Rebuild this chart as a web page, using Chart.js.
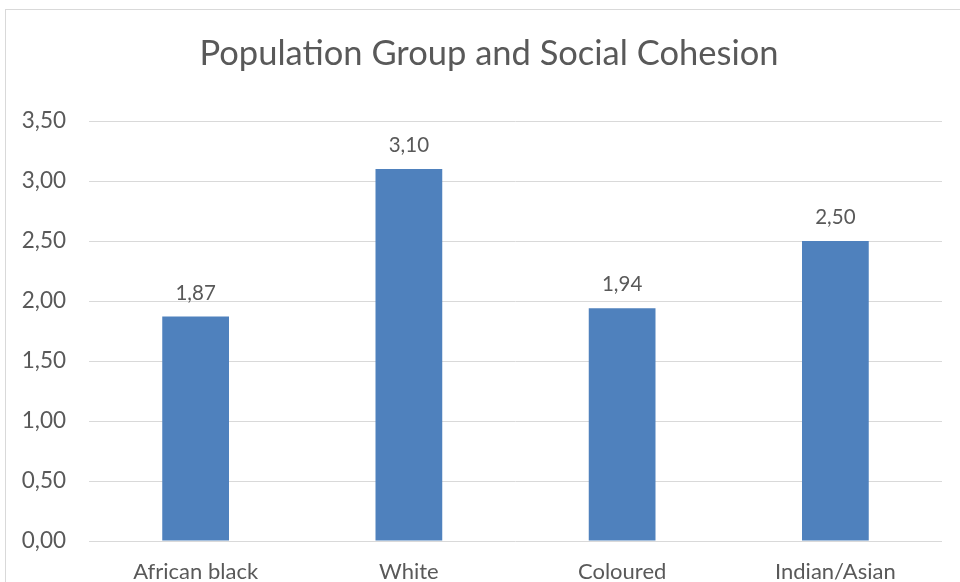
<!DOCTYPE html>
<html>
<head>
<meta charset="utf-8">
<script src="https://cdn.jsdelivr.net/npm/chart.js@4"></script>
<style>
  html, body { margin: 0; padding: 0; background: #fff; overflow: hidden; width: 960px; height: 582px; }
  #box { position: absolute; left: 5px; top: 9px; width: 966px; height: 600px; border: 1px solid #d9d9d9; background: #fff; }
  #myChart { display: block; }
</style>
</head>
<body>
<div id="box"><canvas id="myChart" width="966" height="592"></canvas></div>
<script>
// chart data
const groups = ['African black', 'White', 'Coloured', 'Indian/Asian'];
const cohesion = [1.87, 3.10, 1.94, 2.50];
const yTicks = [0, 0.5, 1, 1.5, 2, 2.5, 3, 3.5];
const chartTitle = 'Population Group and Social Cohesion';

const fontFamily = 'Lato, "Open Sans", sans-serif';
const textColor = '#595959';

function fmt(v) {
    return v.toFixed(2).replace('.', ',');
}

// value above each bar + title centred on the whole chart box
const valueLabels = {
    id: 'valueLabels',
    afterDatasetsDraw(chart) {
        const ctx = chart.ctx;
        const meta = chart.getDatasetMeta(0);
        ctx.save();
        ctx.font = '20.5px ' + fontFamily;
        ctx.fillStyle = textColor;
        ctx.textAlign = 'center';
        ctx.textBaseline = 'alphabetic';
        meta.data.forEach((bar, i) => {
            ctx.fillText(fmt(chart.data.datasets[0].data[i]), bar.x, bar.y - 17);
        });

        ctx.font = '34.5px ' + fontFamily;
        ctx.textBaseline = 'middle';
        ctx.fillText(chartTitle, chart.width / 2, 44);
        ctx.restore();
    }
};

const ctx = document.getElementById('myChart');
new Chart(ctx, {
    type: 'bar',
    data: {
        labels: groups,
        datasets: [{
            label: 'Social Cohesion',
            data: cohesion,
            backgroundColor: '#4f81bd',
            borderWidth: 0,
            barPercentage: 0.313,
            categoryPercentage: 1
        }]
    },
    options: {
        responsive: false,
        animation: false,
        layout: { padding: { left: 0, right: 30, top: 111, bottom: 0 } },
        plugins: {
            legend: { display: false },
            tooltip: { enabled: false },
            title: { display: false }
        },
        scales: {
            y: {
                min: 0,
                max: 3.5,
                afterBuildTicks: axis => { axis.ticks = yTicks.map(v => ({ value: v })); },
                afterFit: axis => { axis.width = 83; },
                grid: { color: '#d9d9d9', drawTicks: false },
                border: { display: false },
                ticks: {
                    color: textColor,
                    padding: 23,
                    font: { family: fontFamily, size: 22.5 },
                    callback: v => fmt(v)
                }
            },
            x: {
                afterFit: axis => { axis.height = 61; },
                grid: { display: false },
                border: { display: false },
                ticks: {
                    color: textColor,
                    padding: 10,
                    font: { family: fontFamily, size: 22 }
                }
            }
        }
    },
    plugins: [valueLabels]
});
</script>
</body>
</html>
